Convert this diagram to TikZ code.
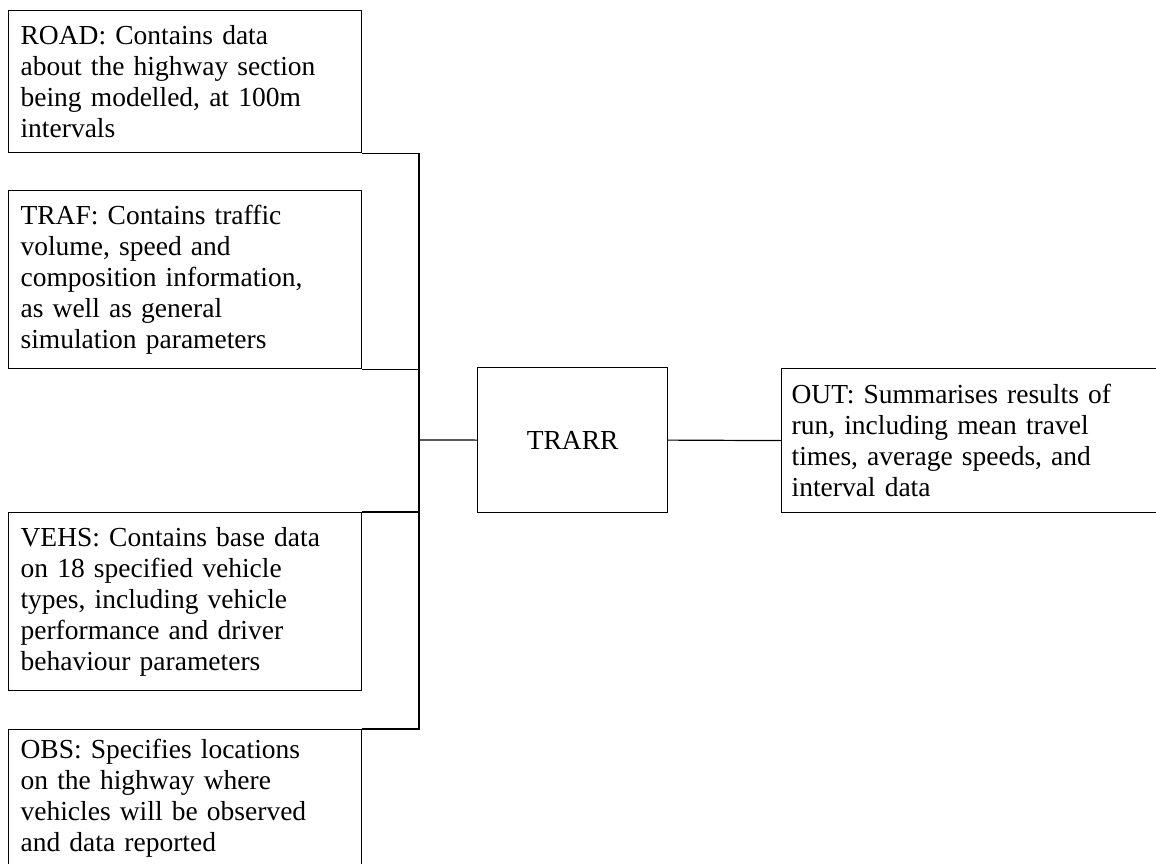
\documentclass[tikz,border=0pt]{standalone}
\usepackage{fontspec}
\setmainfont{Liberation Serif}
\begin{document}
\begin{tikzpicture}[x=1pt,y=-1pt,
  every node/.style={font=\fontsize{27.5}{31}\selectfont},
  databox/.style={draw, line width=1.2pt, rectangle, anchor=north west, align=left,
    text width=329pt, inner xsep=12pt, inner ysep=0pt},
  wire/.style={line width=1.2pt}]
\useasboundingbox (0,0) rectangle (1156,864);
\node[databox, minimum height=142pt] (ROAD) at (8,10)
  {ROAD: Contains data\\about the highway section\\being modelled, at 100m\\intervals};
\node[databox, minimum height=178pt] (TRAF) at (8,190)
  {TRAF: Contains traffic\\volume, speed and\\composition information,\\as well as general\\simulation parameters};
\node[databox, minimum height=178pt] (VEHS) at (8,512)
  {VEHS: Contains base data\\on 18 specified vehicle\\types, including vehicle\\performance and driver\\behaviour parameters};
\node[databox, minimum height=137pt] (OBS) at (8,729)
  {OBS: Specifies locations\\on the highway where\\vehicles will be observed\\and data reported};
\node[draw, line width=1.2pt, rectangle, anchor=north west, minimum width=190pt,
  minimum height=145pt, inner sep=0pt] (TRARR) at (477,367) {TRARR};
\node[draw, line width=1.2pt, rectangle, anchor=north west, align=left,
  text width=400pt, inner xsep=10pt, inner ysep=0pt, minimum height=144pt] (OUT) at (781,368)
  {OUT: Summarises results of\\run, including mean travel\\times, average speeds, and\\interval data};
\coordinate (jt) at (419,440);
\draw[wire] (ROAD.south east) -| (jt);
\draw[wire] (TRAF.south east) -| (jt);
\draw[wire] (VEHS.north east) -| (jt);
\draw[wire] (OBS.north east) -| (jt);
\draw[wire] (jt) -- (TRARR.west);
\draw[wire] (TRARR.east) -- (OUT.west);
\end{tikzpicture}
\end{document}
